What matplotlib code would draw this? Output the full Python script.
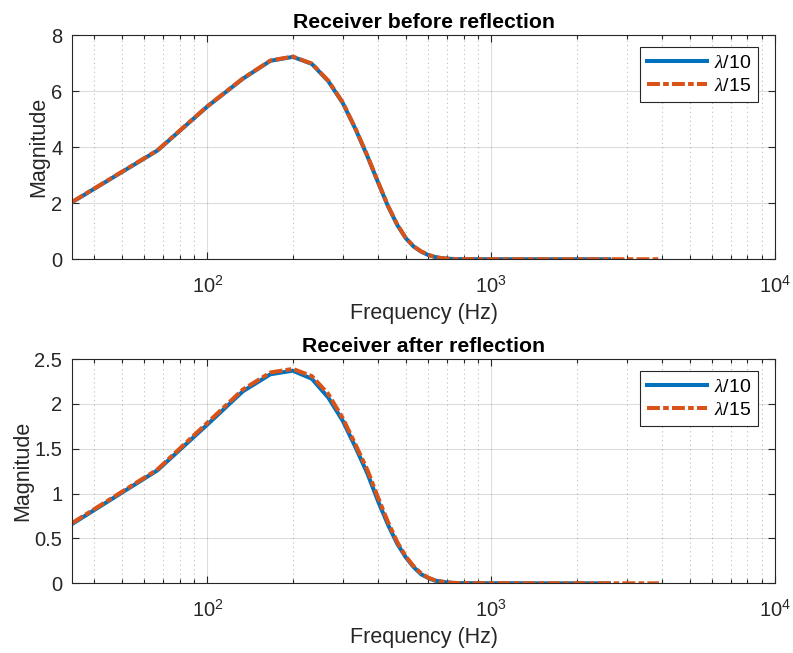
import matplotlib
matplotlib.use("Agg")
import matplotlib.pyplot as plt
from matplotlib.ticker import LogLocator, NullFormatter, FixedLocator

plt.rcParams['font.family'] = ['Liberation Sans', 'DejaVu Sans']
plt.rcParams['mathtext.fontset'] = 'custom'
plt.rcParams['mathtext.rm'] = 'Liberation Sans'
plt.rcParams['mathtext.it'] = 'Liberation Serif:italic'

# ---- data ----
freq10 = [33.3, 66.7, 100, 133.3, 166.7, 200, 233.3, 266.7, 300, 333.3, 366.7, 400,
          433.3, 466.7, 500, 533.3, 566.7, 600, 633.3, 666.7, 700, 733.3, 766.7, 800,
          1000, 1500, 2000, 2600]
freq15 = [33.3, 66.7, 100, 133.3, 166.7, 200, 233.3, 266.7, 300, 333.3, 366.7, 400,
          433.3, 466.7, 500, 533.3, 566.7, 600, 633.3, 666.7, 700, 733.3, 766.7, 800,
          1000, 1500, 2000, 3000, 3900]

before10 = [2.03, 3.88, 5.45, 6.44, 7.08, 7.22, 6.97, 6.35, 5.57, 4.62, 3.66, 2.72,
            1.88, 1.22, 0.75, 0.45, 0.27, 0.15, 0.08, 0.04, 0.02, 0.01, 0.005, 0.002,
            0.0, 0.0, 0.0, 0.0]
before15 = [2.04, 3.89, 5.46, 6.45, 7.09, 7.23, 6.98, 6.37, 5.59, 4.64, 3.68, 2.74,
            1.90, 1.24, 0.76, 0.46, 0.28, 0.16, 0.08, 0.04, 0.02, 0.01, 0.005, 0.002,
            0.0, 0.0, 0.0, 0.0, 0.0]

after10 = [0.66, 1.26, 1.77, 2.14, 2.33, 2.37, 2.28, 2.07, 1.81, 1.51, 1.22, 0.91,
           0.65, 0.44, 0.29, 0.18, 0.10, 0.06, 0.03, 0.02, 0.01, 0.005, 0.003, 0.002,
           0.001, 0.0, 0.0, 0.0]
after15 = [0.67, 1.27, 1.79, 2.16, 2.35, 2.39, 2.31, 2.11, 1.84, 1.54, 1.26, 0.95,
           0.68, 0.46, 0.30, 0.19, 0.11, 0.063, 0.034, 0.02, 0.01, 0.005, 0.003, 0.002,
           0.001, 0.0, 0.0, 0.0, 0.0]

titles = ["Receiver before reflection", "Receiver after reflection"]
labels = [r"$\mathit{\lambda}$/10", r"$\mathit{\lambda}$/15"]
yticks_top = [0, 2, 4, 6, 8]
yticks_bot = [0, 0.5, 1, 1.5, 2, 2.5]
ytick_labels_bot = ["0", "0.5", "1", "1.5", "2", "2.5"]

BLUE = "#0072BD"
ORANGE = "#D95319"
DARK = "#262626"

fig = plt.figure(figsize=(7.93, 6.53), dpi=100)
ax1 = fig.add_axes([0.0908, 0.603, 0.8865, 0.3434])
ax2 = fig.add_axes([0.0908, 0.1067, 0.8865, 0.3435])

def style(ax, title, yt, ytl, ylim):
    ax.set_xscale('log')
    ax.set_xlim(100/3, 1e4)
    ax.set_ylim(*ylim)
    ax.set_yticks(yt)
    ax.set_yticklabels(ytl)
    ax.xaxis.set_major_locator(FixedLocator([1e2, 1e3, 1e4]))
    ax.xaxis.set_minor_locator(LogLocator(base=10, subs=range(2, 10), numticks=20))
    ax.xaxis.set_minor_formatter(NullFormatter())
    ax.tick_params(which='both', direction='in', top=True, right=True, colors=DARK,
                   labelsize=14.5, width=0.8)
    ax.tick_params(which='major', length=5)
    ax.tick_params(which='minor', length=3)
    ax.tick_params(axis='x', pad=11)
    ax.tick_params(axis='y', pad=7)
    for s in ax.spines.values():
        s.set_color(DARK)
        s.set_linewidth(0.8)
    ax.grid(which='major', color=DARK, alpha=0.15, linewidth=0.8, linestyle='-')
    ax.grid(which='minor', axis='x', color=DARK, alpha=0.3, linewidth=0.8, linestyle=(0, (1, 3)))
    ax.set_axisbelow(True)
    ax.set_title(title, fontsize=15.3, fontweight='bold', color='black', pad=5)
    ax.set_xlabel("Frequency (Hz)", fontsize=15.5, color=DARK, labelpad=5)
    ax.set_ylabel("Magnitude", fontsize=15.5, color=DARK, labelpad=1)

for ax, f10, y10, f15, y15 in [(ax1, freq10, before10, freq15, before15),
                               (ax2, freq10, after10, freq15, after15)]:
    ax.plot(f10, y10, color=BLUE, linewidth=2.9, label=labels[0], solid_joinstyle='round')
    ax.plot(f15, y15, color=ORANGE, linewidth=2.9, linestyle=(0, (3.2, 0.8, 1.4, 0.8)),
            label=labels[1])
    leg = ax.legend(loc='upper right', bbox_to_anchor=(0.9758, 0.946), fontsize=14,
                    frameon=True, fancybox=False, framealpha=1, edgecolor=DARK,
                    borderpad=0.35, handlelength=3.1, handletextpad=0.35,
                    labelspacing=0.3, borderaxespad=0.0)
    leg.get_frame().set_linewidth(0.8)

style(ax1, titles[0], yticks_top, [str(v) for v in yticks_top], (0, 8))
style(ax2, titles[1], yticks_bot, ytick_labels_bot, (0, 2.5))

fig.savefig("out.png", dpi=100, facecolor='white')
